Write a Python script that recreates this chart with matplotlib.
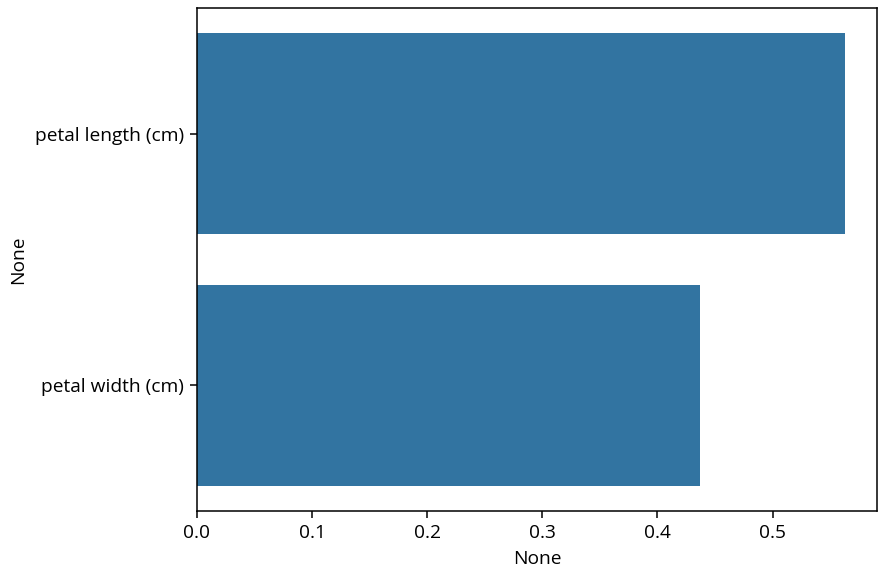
import matplotlib
matplotlib.use("Agg")
import matplotlib.pyplot as plt

plt.rcParams['font.family'] = ['Open Sans', 'DejaVu Sans']

features = ["petal length (cm)", "petal width (cm)"]
importances = [0.5626, 0.4374]
xticks = [0.0, 0.1, 0.2, 0.3, 0.4, 0.5]

DPI = 137.5
W, H = 881, 581
fig = plt.figure(figsize=(W / DPI, H / DPI), dpi=DPI)
ax = fig.add_axes([197/W, 1 - 511/H, (877 - 197)/W, (511 - 8)/H])

ypos = list(range(len(features)))
ax.barh(ypos, importances, height=0.8, color="#3274a1")
ax.set_yticks(ypos)
ax.set_yticklabels(features, fontsize=10)
ax.set_ylim(len(features) - 0.5, -0.5)
ax.set_xlim(0, max(importances) * 1.05)
ax.set_xticks(xticks)
ax.set_xticklabels([f"{t:.1f}" for t in xticks], fontsize=10)
ax.set_xlabel("None", fontsize=10)
ax.set_ylabel("None", fontsize=10)

fig.savefig("out.png", dpi=DPI)
